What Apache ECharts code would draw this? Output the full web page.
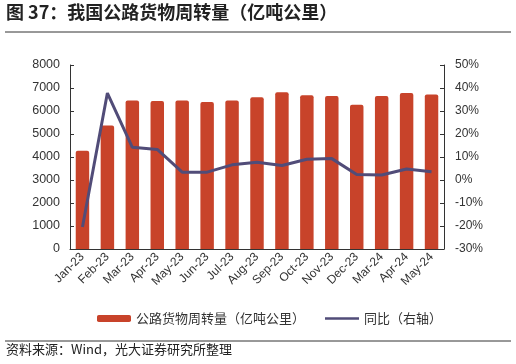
<!DOCTYPE html>
<html><head><meta charset="utf-8">
<script src="https://cdn.jsdelivr.net/npm/echarts@6/dist/echarts.min.js"></script>
<style>html,body{margin:0;padding:0;background:#fff}#c{width:516px;height:364px}</style>
</head><body><div id="c"></div>
<script>
var categories = ['Jan-23','Feb-23','Mar-23','Apr-23','May-23','Jun-23','Jul-23','Aug-23','Sep-23','Oct-23','Nov-23','Dec-23','Mar-24','Apr-24','May-24'];
var volume = [4270, 5370, 6460, 6430, 6460, 6390, 6460, 6600, 6820, 6690, 6650, 6270, 6650, 6780, 6720];
var yoy = [-20.4, 37.8, 14.2, 13.3, 3.4, 3.4, 6.6, 7.7, 6.3, 9.0, 9.3, 2.4, 2.2, 4.8, 3.6];
var leftTicks = [0, 8000, 1000];
var rightTicks = [-30, 50, 10];
var font = '"Noto Sans CJK SC", "Liberation Sans", sans-serif';
var chart = echarts.init(document.getElementById('c'), null, {renderer: 'canvas'});
chart.setOption({
  animation: false,
  graphic: [
    {type: 'text', left: 6, top: 3, style: {text: '图 37：我国公路货物周转量（亿吨公里）', font: 'bold 18px ' + font, fill: '#222'}},
    {type: 'line', shape: {x1: 5, y1: 32, x2: 511, y2: 32}, style: {stroke: '#333', lineWidth: 1}},
    {type: 'line', shape: {x1: 5, y1: 341, x2: 511, y2: 341}, style: {stroke: '#333', lineWidth: 1}},
    {type: 'text', left: 6, top: 343, style: {text: '资料来源：Wind，光大证券研究所整理', font: '13px ' + font, fill: '#222'}}
  ],
  grid: {left: 70, right: 72, top: 65, bottom: 115},
  legend: {
    bottom: 34, left: 92, itemGap: 20, itemWidth: 34, itemHeight: 7,
    textStyle: {fontFamily: font, fontSize: 13, color: '#333'},
    data: [
      {name: '公路货物周转量（亿吨公里）', icon: 'roundRect'},
      {name: '同比（右轴）', icon: 'path://M0,0M0,2.3L34,2.3L34,4.7L0,4.7ZM34,7'}
    ]
  },
  xAxis: {
    type: 'category', data: categories,
    axisLine: {lineStyle: {color: '#333'}},
    axisTick: {inside: true, length: 4, lineStyle: {color: '#333'}},
    axisLabel: {rotate: 45, interval: 0, color: '#333', fontFamily: 'Liberation Sans', fontSize: 12, margin: 6}
  },
  yAxis: [
    {type: 'value', min: leftTicks[0], max: leftTicks[1], interval: leftTicks[2],
     axisLine: {show: true, lineStyle: {color: '#333'}},
     axisTick: {show: true, inside: true, length: 4, lineStyle: {color: '#333'}},
     splitLine: {show: false},
     axisLabel: {color: '#333', fontFamily: 'Liberation Sans', fontSize: 12.5, margin: 10, formatter: function (v) { return String(v); }}},
    {type: 'value', min: rightTicks[0], max: rightTicks[1], interval: rightTicks[2],
     axisLine: {show: true, lineStyle: {color: '#333'}},
     axisTick: {show: true, inside: true, length: 4, lineStyle: {color: '#333'}},
     splitLine: {show: false},
     axisLabel: {color: '#333', fontFamily: 'Liberation Sans', fontSize: 12, margin: 11, formatter: '{value}%'}}
  ],
  series: [
    {name: '公路货物周转量（亿吨公里）', type: 'bar', data: volume, barWidth: '54%',
     itemStyle: {color: '#C8432A', borderRadius: [2, 2, 0, 0]}},
    {name: '同比（右轴）', type: 'line', yAxisIndex: 1, data: yoy, symbol: 'none',
     lineStyle: {color: '#514C78', width: 3}, itemStyle: {color: '#514C78'}}
  ]
});
</script></body></html>
